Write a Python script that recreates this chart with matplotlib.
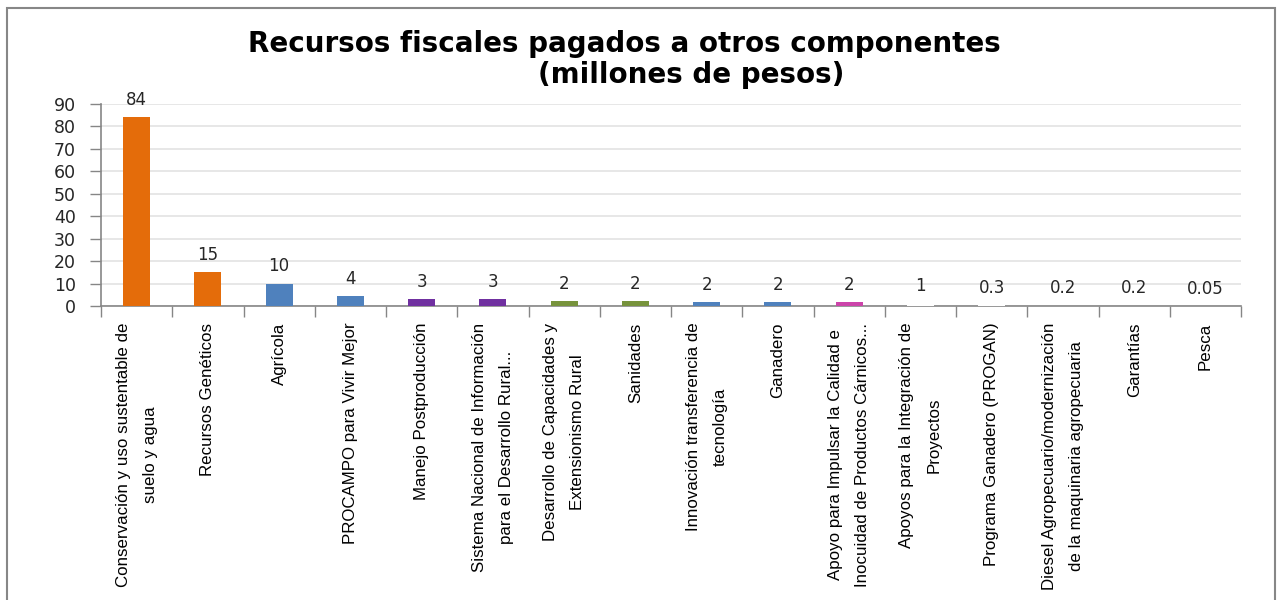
import matplotlib
matplotlib.use("Agg")
import matplotlib.pyplot as plt
from matplotlib.patches import Rectangle
from matplotlib import font_manager

# data
categories = [
    "Conservación y uso sustentable de\nsuelo y agua",
    "Recursos Genéticos",
    "Agrícola",
    "PROCAMPO para Vivir Mejor",
    "Manejo Postproducción",
    "Sistema Nacional de Información\npara el Desarrollo Rural...",
    "Desarrollo de Capacidades y\nExtensionismo Rural",
    "Sanidades",
    "Innovación transferencia de\ntecnología",
    "Ganadero",
    "Apoyo para Impulsar la Calidad e\nInocuidad de Productos Cárnicos...",
    "Apoyos para la Integración de\nProyectos",
    "Programa Ganadero (PROGAN)",
    "Diesel Agropecuario/modernización\nde la maquinaria agropecuaria",
    "Garantías",
    "Pesca",
]
values = [84, 15, 10, 4.4, 3, 3, 2.2, 2.2, 1.6, 1.6, 1.6, 1, 0.3, 0.2, 0.2, 0.05]
value_labels = ["84", "15", "10", "4", "3", "3", "2", "2", "2", "2", "2", "1", "0.3", "0.2", "0.2", "0.05"]
bar_colors = ["#E46C0A", "#E46C0A", "#4F81BD", "#4F81BD", "#7030A0", "#7030A0",
              "#77933C", "#77933C", "#4F81BD", "#4F81BD", "#CC44AA",
              "white", "white", "white", "white", "white"]
yticks = [0, 10, 20, 30, 40, 50, 60, 70, 80, 90]

names = {f.name for f in font_manager.fontManager.ttflist}
label_family = ["Liberation Sans Narrow"] if "Liberation Sans Narrow" in names else ["Liberation Sans"]
label_family = label_family + ["DejaVu Sans"]
label_size = 15 if "Liberation Sans Narrow" in names else 12.2

fig = plt.figure(figsize=(12.8, 6), dpi=100, facecolor="white")
ax = fig.add_axes([101/1280, 1 - 306/600, 1140/1280, 202/600])

x = list(range(len(values)))
ax.bar(x, values, width=0.38, color=bar_colors, zorder=3)
for xi, v, lab in zip(x, values, value_labels):
    ax.annotate(lab, (xi, v), xytext=(0, 6), textcoords="offset points",
                ha="center", va="bottom", fontsize=12, color="#262626",
                family="DejaVu Sans")

ax.set_xlim(-0.5, len(values) - 0.5)
ax.set_ylim(0, 90)
ax.set_yticks(yticks)
ax.tick_params(axis="y", labelsize=12.5, length=8, width=1, color="#868686",
               pad=10, labelcolor="#262626")
ax.yaxis.grid(True, color="#E3E3E3", linewidth=1.2, zorder=0)
ax.set_axisbelow(True)

ax.set_xticks(x)
ax.set_xticklabels(categories, rotation=90, ha="center", va="top",
                   multialignment="center", family=label_family, fontsize=label_size,
                   linespacing=2.0, color="black")
ax.set_xticks([i - 0.5 for i in range(len(values) + 1)], minor=True)
ax.tick_params(axis="x", which="major", length=0, pad=12)
ax.tick_params(axis="x", which="minor", length=8, width=1, color="#868686")

for s in ["top", "right"]:
    ax.spines[s].set_visible(False)
for s in ["left", "bottom"]:
    ax.spines[s].set_color("#868686")
    ax.spines[s].set_linewidth(1.2)

fig.text(624/1280, 1 - 44/600, "Recursos fiscales pagados a otros componentes",
         ha="center", va="center", fontsize=20, fontweight="bold", family="DejaVu Sans")
fig.text(691/1280, 1 - 75/600, "(millones de pesos)",
         ha="center", va="center", fontsize=20, fontweight="bold", family="DejaVu Sans")

# outer chart border
fig.patches.append(Rectangle((7/1280, -0.02), 1268/1280, 1.02 - 8/600,
                             transform=fig.transFigure, fill=False,
                             edgecolor="#878787", linewidth=1.5))

fig.savefig("out.png", dpi=100, facecolor="white")
